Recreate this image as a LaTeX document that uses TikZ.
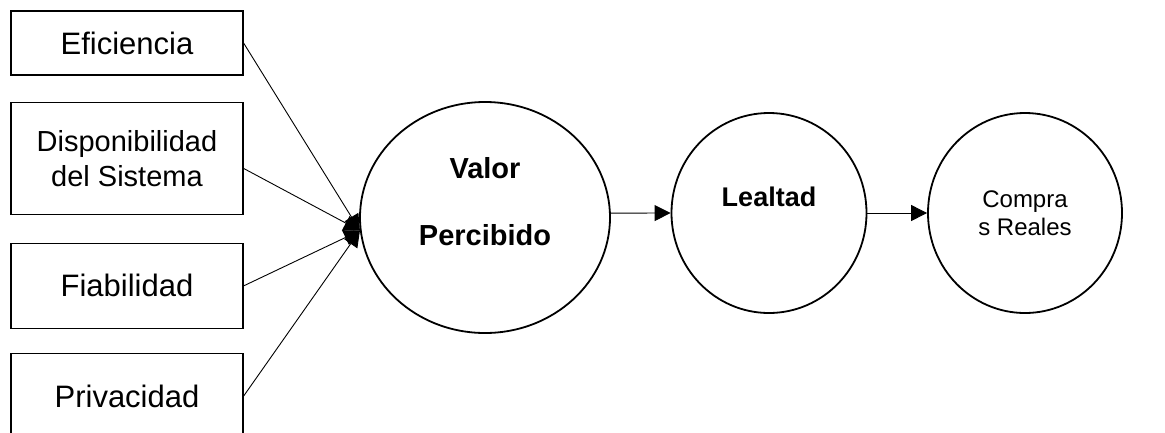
\documentclass[tikz,border=0pt]{standalone}
\usepackage{fontspec}
\setmainfont{Liberation Sans}
\usetikzlibrary{positioning, shapes, arrows.meta}

\begin{document}
\begin{tikzpicture}[x=1pt, y=-1pt,
  every node/.style={inner sep=0pt, align=center, text=black},
  factor/.style={rectangle, draw, line width=1.2pt, minimum width=232pt, font=\fontsize{31}{37}\selectfont},
  bubble/.style={ellipse, draw, line width=1.8pt},
  boldtext/.style={font=\bfseries\fontsize{29}{35}\selectfont},
  link/.style={line width=0.9pt, -{Triangle[length=16pt, width=16pt]}}]
\useasboundingbox (0,0) rectangle (1165,432);

% factores
\node[factor, minimum height=64pt] (efic) at (127,43) {Eficiencia};
\node[factor, minimum height=112pt, below=26pt of efic, font=\fontsize{29}{35}\selectfont] (disp) {Disponibilidad\\del Sistema};
\node[factor, minimum height=85pt, below=28pt of disp] (fiab) {Fiabilidad};
\node[factor, minimum height=85pt, below=24pt of fiab] (priv) {Privacidad};

% circulos
\node[bubble, minimum width=250pt, minimum height=231pt] (valor) at (485,217.5) {};
\node[boldtext] (valortext) at (485,201.5) {Valor\\[32pt]Percibido};
\node[bubble, minimum width=195pt, minimum height=200pt] (leal) at (769,213) {};
\node[boldtext, font=\bfseries\fontsize{27}{32}\selectfont] (lealtext) at (769,197) {Lealtad};
\node[bubble, minimum width=194pt, minimum height=200pt, font=\fontsize{24}{28}\selectfont] (comp) at (1025,213) {Compra\\s Reales};

% conexiones
\foreach \src/\anc in {efic/east, disp/355, fiab/east, priv/east}
  \draw[link] (\src.\anc) -- (valor.186);
\draw[link] (valor.2) -- (leal.west);
\draw[link] (leal.east) -- (comp.west);
\end{tikzpicture}
\end{document}
